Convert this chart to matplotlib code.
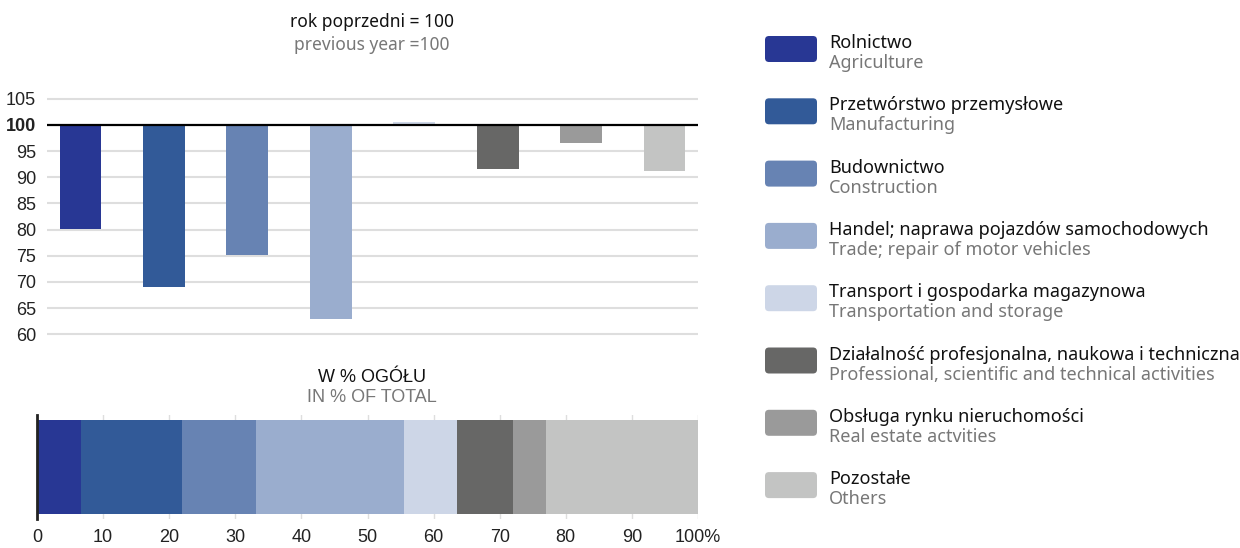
import matplotlib
matplotlib.use("Agg")
import matplotlib.pyplot as plt
from matplotlib.patches import FancyBboxPatch
import numpy as np

################################# Data #################################
sectors_pl = ["Rolnictwo", "Przetwórstwo przemysłowe", "Budownictwo",
              "Handel; naprawa pojazdów samochodowych",
              "Transport i gospodarka magazynowa",
              "Działalność profesjonalna, naukowa i techniczna",
              "Obsługa rynku nieruchomości", "Pozostałe"]
sectors_en = ["Agriculture", "Manufacturing", "Construction",
              "Trade; repair of motor vehicles", "Transportation and storage",
              "Professional, scientific and technical activities",
              "Real estate actvities", "Others"]
index_prev_year = [80.2, 69.1, 75.2, 63.0, 100.6, 91.5, 96.6, 91.3]
share_total = [6.6, 15.4, 11.1, 22.4, 8.1, 8.4, 5.0, 23.0]
colors = ["#283794", "#325A98", "#6783B3", "#9AADCE",
          "#CDD6E7", "#676766", "#9A9A9A", "#C3C4C3"]
y_ticks = [60, 65, 70, 75, 80, 85, 90, 95, 100, 105]
x_ticks = [0, 10, 20, 30, 40, 50, 60, 70, 80, 90, 100]

W, H = 1240, 548
NUM = ["Liberation Sans", "DejaVu Sans"]
LEG = ["Noto Sans", "DejaVu Sans"]

def px(x0, y0, x1, y1):
    return [x0 / W, 1 - y1 / H, (x1 - x0) / W, (y1 - y0) / H]

fig = plt.figure(figsize=(W / 100, H / 100), dpi=100)

################################# Top chart #################################
ax = fig.add_axes(px(47, 93.6, 698, 339.5))
x = np.arange(len(index_prev_year))
vals = np.array(index_prev_year)
for yt in y_ticks:
    if yt == 100:
        continue
    ax.axhline(yt, color="#DEDEDE", lw=1.5, zorder=0)
ax.bar(x, vals - 100, bottom=100, width=0.5, color=colors, zorder=2)
ax.axhline(100, color="black", lw=1.6, zorder=3)
ax.set_xlim(-0.4, 7.4)
ax.set_ylim(59, 106)
ax.set_yticks(y_ticks)
ax.set_yticklabels([str(v) for v in y_ticks], family=NUM, fontsize=13,
                   color="#222222")
for lab in ax.get_yticklabels():
    if lab.get_text() == "100":
        lab.set_fontweight("bold")
ax.tick_params(axis="y", length=0, pad=8)
ax.set_xticks([])
for s in ax.spines.values():
    s.set_visible(False)

fig.text(372 / W, 1 - 22 / H, "rok poprzedni = 100", ha="center", va="center",
         family=LEG, fontsize=12.5, color="#111111")
fig.text(372 / W, 1 - 45 / H, "previous year =100", ha="center", va="center",
         family=LEG, fontsize=12.5, color="#777777")

################################# Bottom chart #################################
ax2 = fig.add_axes(px(37, 415, 698, 519))
left = 0
for v, c in zip(share_total, colors):
    ax2.barh(0, v, left=left, height=0.9, color=c, zorder=2)
    left += v
ax2.set_xlim(0, 100)
ax2.set_ylim(-0.5, 0.5)
for xt in x_ticks[1:]:
    ax2.axvline(xt, color="#DEDEDE", lw=1, zorder=0)
ax2.set_xticks(x_ticks)
ax2.set_xticklabels([str(v) for v in x_ticks[:-1]] + ["100%"], family=NUM,
                    fontsize=13, color="#222222")
ax2.tick_params(axis="x", length=0, pad=7)
ax2.set_yticks([])
for s in ax2.spines.values():
    s.set_visible(False)
ax2.spines["left"].set_visible(True)
ax2.spines["left"].set_linewidth(2)
ax2.spines["left"].set_color("#222222")

fig.text(372 / W, 1 - 377 / H, "W % OGÓŁU", ha="center", va="center",
         family=NUM, fontsize=13, color="#111111")
fig.text(372 / W, 1 - 398 / H, "IN % OF TOTAL", ha="center", va="center",
         family=NUM, fontsize=13, color="#777777")

################################# Legend #################################
lax = fig.add_axes([0, 0, 1, 1])
lax.set_xlim(0, W)
lax.set_ylim(H, 0)
lax.axis("off")
for i, (pl, en, c) in enumerate(zip(sectors_pl, sectors_en, colors)):
    yc = 49 + i * 62.3
    lax.add_patch(FancyBboxPatch((765, yc - 13), 52, 26,
                                 boxstyle="round,pad=0,rounding_size=4",
                                 fc=c, ec="none"))
    lax.text(829, yc - 6, pl, ha="left", va="center", family=LEG,
             fontsize=13, color="#111111")
    lax.text(829, yc + 14, en, ha="left", va="center", family=LEG,
             fontsize=13, color="#777777")

fig.savefig("out.png", dpi=100)
